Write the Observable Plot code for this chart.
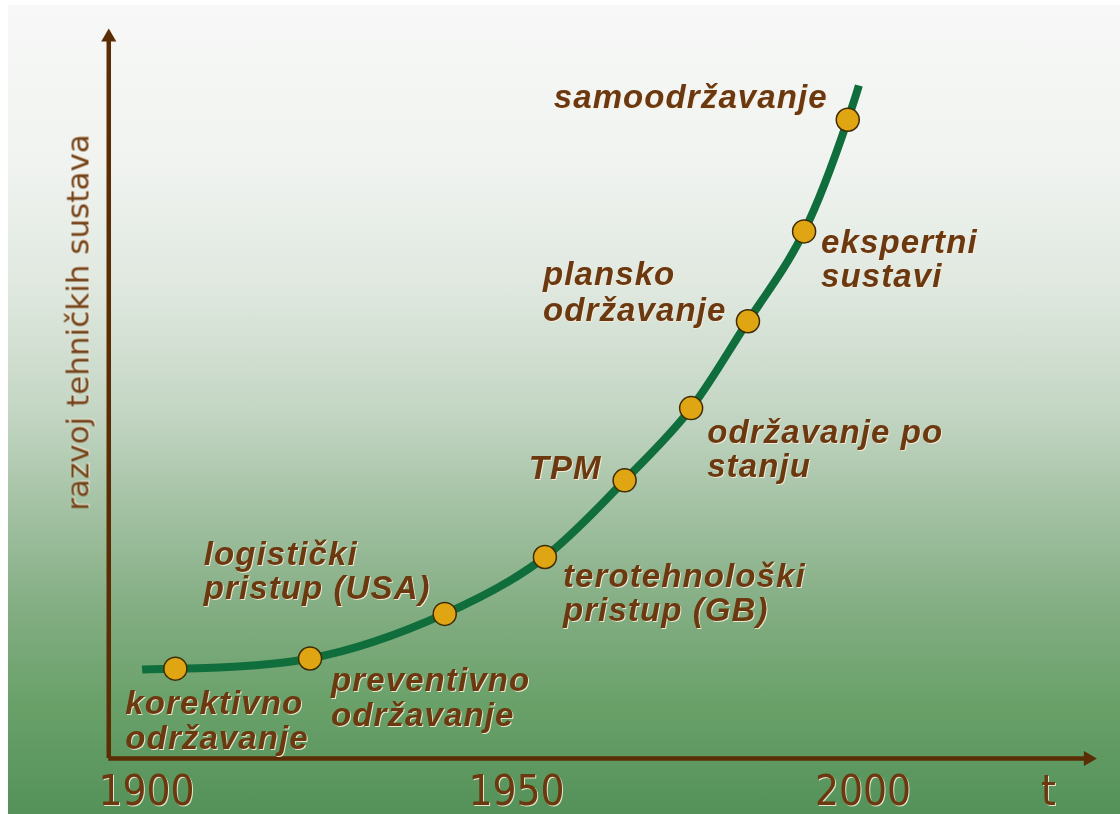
<!DOCTYPE html>
<html>
<head>
<meta charset="utf-8">
<script src="https://cdn.jsdelivr.net/npm/d3@7"></script>
<script src="https://cdn.jsdelivr.net/npm/@observablehq/plot@0.6"></script>
<style>
  html, body { margin: 0; padding: 0; background: #ffffff; }
  #wrap { position: relative; width: 1120px; height: 814px; overflow: hidden; }
  #bg { position: absolute; left: 8px; top: 5px; right: 0; bottom: 0;
        background: linear-gradient(to bottom, #f7f8f7 0%, #f0f3f0 20%, #dee7de 36%, #c4d6c4 50%, #a4c2a4 62%, #82ad82 75%, #68a068 87%, #54925a 100%); }
  #chart { position: absolute; left: 0; top: 0; }
  #chart svg text { filter: drop-shadow(1.5px 1.5px 0px rgba(246,236,218,0.9)); }
  #chart svg g[font-style="italic"] text { letter-spacing: 1.1px; }
</style>
</head>
<body>
<div id="wrap"><div id="bg"></div><div id="chart"></div></div>
<script>
// ---- data ----
const stages = [
  "korektivno\nodržavanje",
  "preventivno\nodržavanje",
  "logistički\npristup (USA)",
  "terotehnološki\npristup (GB)",
  "TPM",
  "održavanje po\nstanju",
  "plansko\nodržavanje",
  "ekspertni\nsustavi",
  "samoodržavanje"
];
const stageYears  = [1903.9, 1922.1, 1940.3, 1954.1, 1965.6, 1975.2, 1983.4, 1991.5, 1997.8];
const stageLevels = [12.3, 13.7, 19.8, 27.6, 38.1, 48.0, 59.9, 72.2, 87.5];
const curveYears  = [1899.4, ...stageYears, 1999.4];
const curveLevels = [12.2, ...stageLevels, 92.2];
const xTicks = [1900, 1950, 2000];
const xAxisLabel = "t";
const yAxisLabel = "razvoj tehničkih sustava";
const axisStartYear = 1894.9, axisEndYear = 2032.5, axisTopLevel = 98.8;

// ---- build tables ----
const stageData = stages.map((s, i) => ({label: s, year: stageYears[i], level: stageLevels[i]}));
const curveData = curveYears.map((y, i) => ({year: y, level: curveLevels[i]}));

// ---- styling ----
const brown = "#6b380f";
const axisBrown = "#5a2d05";
const labelFont = {fontFamily: "'Liberation Sans', Arial, sans-serif", fontWeight: "bold", fontStyle: "italic", fontSize: 33, fill: brown};
const placement = [
  {dx: -50,  dy: 80,  textAnchor: "start", lineHeight: 1.04},
  {dx: 21,   dy: 68,  textAnchor: "start", lineHeight: 1.07},
  {dx: -241, dy: -15, textAnchor: "start", lineHeight: 1.04},
  {dx: 18,   dy: 64,  textAnchor: "start", lineHeight: 1.04},
  {dx: -23,  dy: -1,  textAnchor: "end",   lineHeight: 1.04},
  {dx: 16,   dy: 69,  textAnchor: "start", lineHeight: 1.04},
  {dx: -205, dy: 0,   textAnchor: "start", lineHeight: 1.1},
  {dx: 17,   dy: 56,  textAnchor: "start", lineHeight: 1.04},
  {dx: -20,  dy: -12, textAnchor: "end",   lineHeight: 1.04}
];

const labelMarks = stageData.map((d, i) => Plot.text([d], {
  x: "year", y: "level", text: "label",
  lineAnchor: "bottom",
  ...labelFont,
  ...placement[i]
}));

const tickFont = "'Liberation Sans Narrow', 'DejaVu Sans Condensed', 'Liberation Sans', sans-serif";

const chart = Plot.plot({
  width: 1120,
  height: 814,
  marginLeft: 108,
  marginRight: 72,
  marginTop: 28,
  marginBottom: 56,
  style: {background: "transparent", overflow: "visible"},
  x: {type: "linear", domain: [1900, 1950, 2000], range: [146, 516, 862.5], axis: null},
  y: {type: "linear", domain: [0, 100], range: [758, 28], axis: null},
  marks: [
    // axes lines
    Plot.ruleX([axisStartYear], {y1: 0, y2: axisTopLevel, stroke: axisBrown, strokeWidth: 4.5}),
    Plot.ruleY([0], {x1: axisStartYear, x2: axisEndYear, stroke: axisBrown, strokeWidth: 4.5}),
    Plot.dot([{x: axisStartYear, y: axisTopLevel}], {x: "x", y: "y", symbol: "triangle", r: 5.6, fill: axisBrown, stroke: "none"}),
    Plot.dot([{x: axisEndYear, y: 0}], {x: "x", y: "y", symbol: "triangle", rotate: 90, r: 5.6, fill: axisBrown, stroke: "none"}),
    // tick labels
    Plot.axisX(xTicks, {anchor: "bottom", tickSize: 0, tickPadding: 17, fontSize: 42, fontFamily: tickFont, color: brown, fill: brown, label: null, tickFormat: d => String(d)}),
    Plot.text([xAxisLabel], {frameAnchor: "bottom-right", text: d => d, textAnchor: "middle", lineAnchor: "top", dy: 17, fontSize: 42, fontFamily: tickFont, fill: brown}),
    Plot.text([yAxisLabel], {frameAnchor: "left", text: d => d, rotate: -90, textAnchor: "middle", dx: -30, dy: -71, fontSize: 31, fontFamily: "DejaVu Sans", fill: "#74431a"}),
    // curve and points
    Plot.line(curveData, {x: "year", y: "level", curve: "natural", stroke: "#0f6e3c", strokeWidth: 8, strokeLinecap: "butt"}),
    Plot.dot(stageData, {x: "year", y: "level", r: 11.5, fill: "#e0a512", stroke: "#3d2c05", strokeWidth: 1.5}),
    ...labelMarks
  ]
});

document.getElementById("chart").appendChild(chart);
</script>
</body>
</html>
